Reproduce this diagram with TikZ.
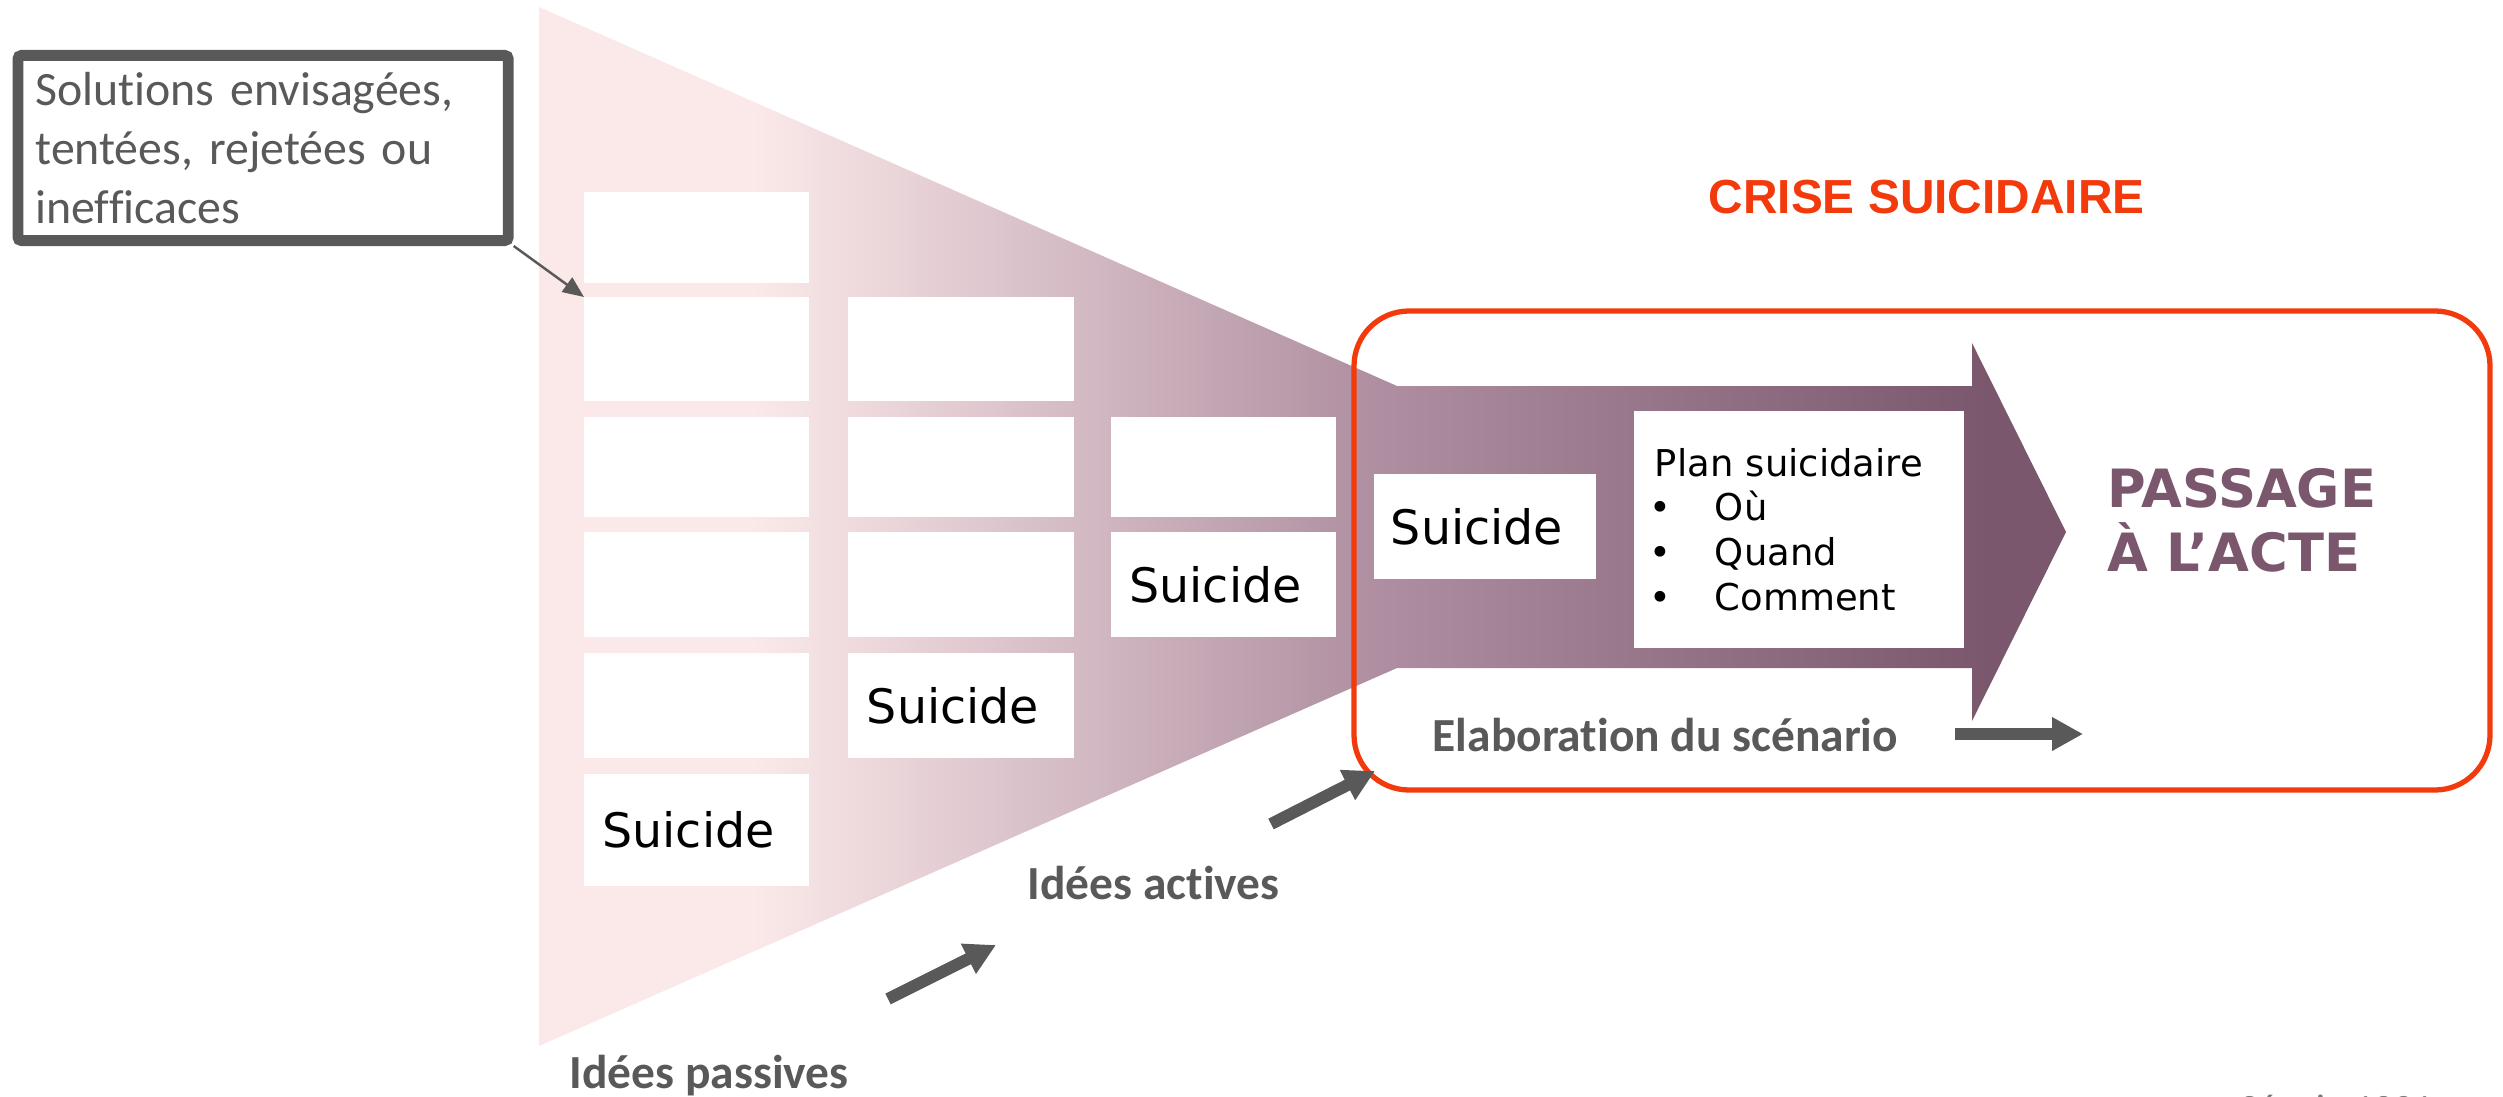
\documentclass[tikz,border=0pt]{standalone}
\usepackage{fontspec}
\setmainfont{Carlito}[Ligatures=NoCommon]
\newfontfamily\verdfont{DejaVu Sans}
\newfontfamily\arialfont{Liberation Sans}
\usetikzlibrary{arrows.meta}

\definecolor{fpink}{RGB}{251,233,233}
\definecolor{fmid}{RGB}{174,142,160}
\definecolor{fdark}{RGB}{122,87,109}
\definecolor{tgray}{RGB}{89,89,89}
\definecolor{crisered}{RGB}{242,58,12}

\pgfdeclarehorizontalshading{funnelshade}{100bp}{color(0bp)=(fpink); color(32bp)=(fpink); color(52.5bp)=(fmid); color(72.5bp)=(fdark); color(100bp)=(fdark)}

\newcommand{\suicidetext}{\hspace*{-0.16cm}Suicide}

\tikzset{
  wbox/.style={fill=white, inner sep=0pt, minimum width=2.25cm, font=\verdfont\fontsize{13.5}{16}\selectfont},
  glabel/.style={text=tgray, inner sep=0pt, anchor=base west, font=\bfseries\fontsize{13.5}{16}\selectfont},
  actetext/.style={anchor=base west, inner sep=0pt, text=fdark, font=\verdfont\bfseries\fontsize{15}{18}\selectfont},
  fatarrow/.style={draw=tgray, line width=3.4pt, -{Triangle[width=9pt,length=8.8pt]}},
}

\begin{document}
\begin{tikzpicture}[x=0.01cm, y=-0.01cm]
\useasboundingbox (0,0) rectangle (2503,1097);

% funnel into the arrow
\shade[shading=funnelshade] (539,7) -- (1397,386) -- (1972,386) -- (1972,343) -- (2066,532)
   -- (1972,721) -- (1972,668) -- (1397,668) -- (539,1046) -- cycle;

% callout
\node[draw=tgray, line width=3.1pt, rounded corners=1pt, fill=white, text=tgray, anchor=north west,
      minimum width=4.9cm, minimum height=1.85cm, inner sep=0pt, text width=4.55cm, align=left,
      font=\fontsize{13.6}{16.8}\selectfont] (callout) at (12.5,50)
      {\raisebox{0pt}[0.68em]{}Solutions envisagées,\\ tentées, rejetées ou\\ inefficaces};
\coordinate (callouttip) at (584,297);
\draw[tgray, line width=0.7pt, -{Triangle[width=5pt,length=6pt]}] (callout.south east) -- (callouttip);

% boxes, column by column
\foreach \y/\h [count=\i] in {237.5/91, 349/104, 467/100, 584.5/105, 705.5/105}
	\node[wbox, minimum height=\h*0.01cm] (a\i) at (696.5,\y) {};
\node[wbox, minimum height=1.12cm] (a6) at (696.5,830) {\suicidetext};

\foreach \y/\h [count=\i] in {349/104, 467/100, 584.5/105}
	\node[wbox, minimum height=\h*0.01cm] (b\i) at (961,\y) {};
\node[wbox, minimum height=1.05cm] (b4) at (961,705.5) {\suicidetext};

\node[wbox, minimum height=1cm] (c1) at (1223.5,467) {};
\node[wbox, minimum height=1.05cm] (c2) at (1223.5,584.5) {\suicidetext};

\node[wbox, minimum width=2.22cm, minimum height=1.05cm] (d1) at (1485,526.5) {\suicidetext};

\node[wbox, minimum width=3.3cm, minimum height=2.37cm, text width=2.88cm, align=left,
      font=\verdfont\fontsize{10.5}{12.7}\selectfont] (plan) at (1799,529.5)
      {Plan suicidaire\\
       \makebox[0.6cm][l]{\hspace{-0.05cm}•}Où\\
       \makebox[0.6cm][l]{\hspace{-0.05cm}•}Quand\\
       \makebox[0.6cm][l]{\hspace{-0.05cm}•}Comment};

% crise suicidaire
\draw[crisered, line width=1.5pt, rounded corners=0.55cm] (1354,311) rectangle (2490,790);
\node[anchor=base west, inner sep=0pt, text=crisered, font=\arialfont\bfseries\fontsize{13.6}{16}\selectfont]
      (crise) at (1708,214) {CRISE SUICIDAIRE};

\node[actetext] (acte1) at (2107,507) {PASSAGE};
\node[actetext] (acte2) at (2107,571) {À L’ACTE};

% labels and arrows
\node[glabel] (elab) at (1432,751) {Elaboration du scénario};
\node[glabel] (actives) at (1027,899) {Idées actives};
\node[glabel] (passives) at (569,1088) {Idées passives};
\node[anchor=base west, inner sep=0pt, text=tgray!80, font=\fontsize{11}{13}\selectfont] (source) at (2240,1121) {Séguin 1991};

\coordinate (e0) at (1955,734);
\coordinate (e1) at (2083,734);
\coordinate (p0) at (888,999);
\coordinate (p1) at (996,945);
\coordinate (q0) at (1271,824);
\coordinate (q1) at (1375,771);
\draw[fatarrow] (e0) -- (e1);
\draw[fatarrow] (p0) -- (p1);
\draw[fatarrow] (q0) -- (q1);

\end{tikzpicture}
\end{document}
